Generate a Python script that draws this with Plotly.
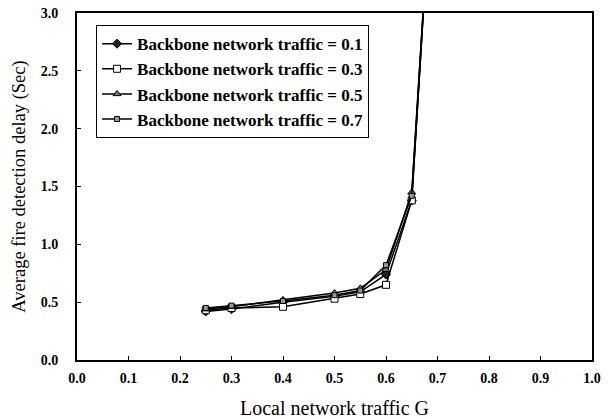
import plotly.graph_objects as go

G = [0.25, 0.3, 0.4, 0.5, 0.55, 0.6, 0.65, 0.7]
names = ["Backbone network traffic = 0.1", "Backbone network traffic = 0.3",
         "Backbone network traffic = 0.5", "Backbone network traffic = 0.7"]
d01 = [0.42, 0.44, 0.50, 0.55, 0.59, 0.74, 1.38, 5.0]
d03 = [0.43, 0.45, 0.46, 0.53, 0.57, 0.65, 1.38, 5.0]
d05 = [0.44, 0.46, 0.52, 0.58, 0.62, 0.78, 1.45, 5.0]
d07 = [0.45, 0.47, 0.51, 0.56, 0.60, 0.82, 1.42, 5.0]
series = [d01, d03, d05, d07]

xticks = [0.0, 0.1, 0.2, 0.3, 0.4, 0.5, 0.6, 0.7, 0.8, 0.9, 1.0]
yticks = [0.0, 0.5, 1.0, 1.5, 2.0, 2.5, 3.0]

styles = [
    dict(symbol="diamond", color="#222222", size=7, line=dict(color="#000", width=1)),
    dict(symbol="square", color="white", size=7, line=dict(color="#000", width=1)),
    dict(symbol="triangle-up", color="#777777", size=7, line=dict(color="#000", width=1)),
    dict(symbol="square", color="#999999", size=5, line=dict(color="#000", width=1)),
]

fig = go.Figure()
for n, s, m in zip(names, series, styles):
    fig.add_trace(go.Scatter(x=G, y=s, name=n, mode="lines+markers",
                             line=dict(color="black", width=1.5), marker=m,
                             cliponaxis=True))

font = "Liberation Serif, Times New Roman, serif"
fig.update_layout(
    width=608, height=419,
    margin=dict(l=77, r=16, t=13, b=59, autoexpand=False),
    paper_bgcolor="white", plot_bgcolor="white",
    font=dict(family=font, color="black"),
    showlegend=True,
    legend=dict(x=0.037, y=0.965, xanchor="left", yanchor="top",
                bgcolor="white", bordercolor="black", borderwidth=1,
                font=dict(family=font, size=17, color="black", weight="bold"),
                tracegroupgap=5, itemwidth=30),
    xaxis=dict(range=[0, 1], tickvals=xticks, ticktext=[f"{v:.1f}" for v in xticks],
               automargin=False, ticklabelstandoff=4,
               showgrid=False, zeroline=False, showline=True, linecolor="black",
               linewidth=2, mirror=True, ticks="inside", ticklen=4, tickcolor="black",
               tickfont=dict(family=font, size=14, weight="bold"),
               title=dict(text="Local network traffic G", font=dict(family=font, size=20), standoff=16)),
    yaxis=dict(range=[0, 3], tickvals=yticks, ticktext=[f"{v:.1f}" for v in yticks],
               automargin=False, ticklabelstandoff=14,
               showgrid=False, zeroline=False, showline=True, linecolor="black",
               linewidth=2, mirror=True, ticks="inside", ticklen=4, tickcolor="black",
               tickfont=dict(family=font, size=14, weight="bold"),
               title=dict(text="Average fire detection delay (Sec)", font=dict(family=font, size=18.5), standoff=10)),
)

fig.write_html("out.html", config={"displayModeBar": False},
               post_script="document.body.style.margin='0';document.body.style.overflow='hidden';")
